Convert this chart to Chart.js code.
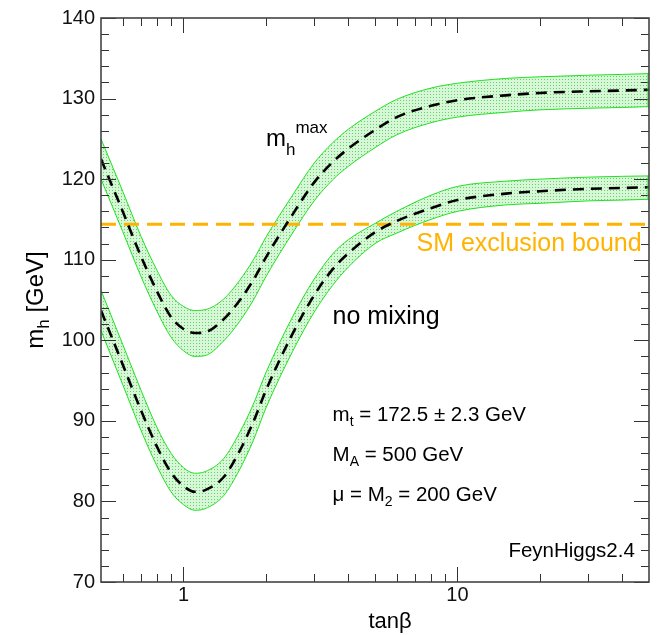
<!DOCTYPE html>
<html>
<head>
<meta charset="utf-8">
<script src="https://cdn.jsdelivr.net/npm/chart.js@4.4.0/dist/chart.umd.min.js"></script>
<style>
  html, body { margin: 0; padding: 0; background: #fff; }
  #wrap { width: 661px; height: 635px; }
</style>
</head>
<body>
<div id="wrap"><canvas id="chart" width="661" height="635"></canvas></div>
<script>
// tan(beta) sample points
const tanB = [0.5, 0.6, 0.7, 0.8, 0.9, 1.0, 1.1, 1.2, 1.4, 1.6, 1.8, 2, 2.5, 3, 3.5, 4, 5, 6, 8, 10, 15, 20, 30, 40, 50];

// mh-max scenario: central value and mt band
const mhmaxMid = [122.5, 116.0, 110.4, 106.1, 102.9, 101.4, 100.9, 101.0, 102.6, 104.9, 107.5, 110.3, 115.6, 119.6, 122.1, 123.8, 126.1, 127.7, 129.1, 129.8, 130.4, 130.7, 130.9, 131.0, 131.1];
const mhmaxHi  = [125.0, 118.5, 112.9, 108.7, 105.6, 104.2, 103.7, 103.8, 105.1, 107.4, 110.0, 112.8, 118.0, 122.0, 124.5, 126.2, 128.4, 129.9, 131.3, 131.9, 132.5, 132.7, 132.9, 133.0, 133.1];
const mhmaxLo  = [120.0, 113.5, 107.9, 103.6, 100.4,  98.7,  98.0,  98.1,  99.9, 102.3, 105.0, 107.9, 113.3, 117.3, 119.9, 121.6, 123.9, 125.5, 127.0, 127.7, 128.3, 128.6, 128.8, 128.9, 129.0];

// no-mixing scenario
const nomixMid = [103.7, 97.0, 91.3, 86.8, 83.6, 81.9, 81.2, 81.4, 83.0, 86.2, 89.9, 93.8, 100.8, 105.6, 108.8, 110.8, 113.4, 114.8, 116.4, 117.4, 118.2, 118.5, 118.8, 118.9, 119.0];
const nomixHi  = [106.2, 99.5, 93.8, 89.2, 86.0, 84.2, 83.5, 83.7, 85.3, 88.5, 92.1, 96.0, 102.9, 107.6, 110.7, 112.5, 114.5, 116.0, 118.0, 119.1, 119.75, 120.0, 120.25, 120.35, 120.4];
const nomixLo  = [101.2, 94.5, 88.8, 84.4, 81.2, 79.6, 78.9, 79.1, 80.7, 83.9, 87.6, 91.6, 98.6, 103.5, 106.8, 109.1, 112.0, 113.3, 115.0, 116.0, 116.8, 117.0, 117.3, 117.4, 117.5];

// LEP SM bound
const smBound = 114.4;

// axes
const xLabelTicks = [1, 10];
const xMinorTicks = [0.6, 0.7, 0.8, 0.9, 2, 3, 4, 5, 6, 7, 8, 9, 20, 30, 40];
const yTickLabels = [70, 80, 90, 100, 110, 120, 130, 140];

const FONT = "'Liberation Sans', Arial, Helvetica, sans-serif";

function pts(ys) {
    return tanB.map((x, i) => ({ x: x, y: ys[i] }));
}

// dotted green fill like the original stipple
function stipple() {
    const c = document.createElement('canvas');
    c.width = 3; c.height = 3;
    const g = c.getContext('2d');
    g.fillStyle = '#d8f6d8';
    g.fillRect(0, 0, 3, 3);
    g.fillStyle = '#62d462';
    g.fillRect(1, 1, 1, 1);
    return g.createPattern(c, 'repeat');
}
const bandFill = stipple();
const edge = '#22e022';

function bandSets(hi, lo, mid) {
    return [
        { data: pts(hi), borderColor: edge, borderWidth: 1, fill: false, order: 3 },
        { data: pts(lo), borderColor: edge, borderWidth: 1, fill: '-1', backgroundColor: bandFill, order: 3 },
        { data: pts(mid), borderColor: '#000', borderWidth: 2.6, borderDash: [11, 7], fill: false, order: 1 }
    ];
}

// frame and inward ticks
const frame = {
    id: 'frame',
    afterDatasetsDraw(chart) {
        const { ctx, chartArea: a, scales: { x, y } } = chart;
        ctx.save();
        ctx.strokeStyle = '#333';
        ctx.lineWidth = 1;
        const seg = (x1, y1, x2, y2) => { ctx.beginPath(); ctx.moveTo(x1, y1); ctx.lineTo(x2, y2); ctx.stroke(); };
        const xt = (v, len) => {
            const p = Math.round(x.getPixelForValue(v)) + 0.5;
            seg(p, a.bottom, p, a.bottom - len);
            seg(p, a.top, p, a.top + len);
        };
        const yt = (v, len) => {
            const p = Math.round(y.getPixelForValue(v)) + 0.5;
            seg(a.left, p, a.left + len, p);
            seg(a.right, p, a.right - len, p);
        };
        xLabelTicks.forEach(v => xt(v, 15));
        xMinorTicks.forEach(v => xt(v, 8));
        for (let v = y.min; v <= y.max; v += 2) {
            yt(v, v % 10 === 0 ? 15 : 8);
        }
        // close the bands at the right end
        ctx.strokeStyle = edge;
        const xe = x.getPixelForValue(tanB[tanB.length - 1]) - 1;
        seg(xe, y.getPixelForValue(mhmaxHi[mhmaxHi.length - 1]), xe, y.getPixelForValue(mhmaxLo[mhmaxLo.length - 1]));
        seg(xe, y.getPixelForValue(nomixHi[nomixHi.length - 1]), xe, y.getPixelForValue(nomixLo[nomixLo.length - 1]));

        ctx.lineWidth = 1.6;
        ctx.strokeStyle = '#444';
        ctx.strokeRect(a.left, a.top, a.right - a.left, a.bottom - a.top);
        ctx.restore();
    }
};

// text with sub/superscripts: parts = [text, size, dy]
function rich(ctx, x, y, parts, color, align) {
    ctx.fillStyle = color;
    ctx.textBaseline = 'alphabetic';
    ctx.textAlign = 'left';
    let w = 0;
    parts.forEach(p => { ctx.font = p[1] + 'px ' + FONT; w += ctx.measureText(p[0]).width; });
    let cx = align === 'right' ? x - w : (align === 'center' ? x - w / 2 : x);
    parts.forEach(p => {
        ctx.font = p[1] + 'px ' + FONT;
        ctx.fillText(p[0], cx, y + p[2]);
        cx += ctx.measureText(p[0]).width;
    });
}

const notes = {
    id: 'notes',
    afterDraw(chart) {
        const { ctx, chartArea: a, scales: { x, y } } = chart;
        const px = v => x.getPixelForValue(v);
        const py = v => y.getPixelForValue(v);
        ctx.save();
        rich(ctx, px(2.0), py(124.1), [['m', 24, 0], ['h', 17, 9], ['max', 17, -13]], '#000');
        rich(ctx, px(3.5), py(102), [['no mixing', 25, 0]], '#000');
        rich(ctx, px(3.5), py(90), [['m', 20.5, 0], ['t', 14, 5], [' = 172.5 \u00b1 2.3 GeV', 20.5, 0]], '#000');
        rich(ctx, px(3.5), py(85), [['M', 20.5, 0], ['A', 14, 5], [' = 500 GeV', 20.5, 0]], '#000');
        rich(ctx, px(3.5), py(80), [['\u03bc = M', 20.5, 0], ['2', 14, 5], [' = 200 GeV', 20.5, 0]], '#000');
        rich(ctx, px(47), py(111.1), [['SM exclusion bound', 25, 0]], '#ffb300', 'right');
        rich(ctx, px(44.4), py(73.1), [['FeynHiggs2.4', 20.5, 0]], '#000', 'right');

        // axis titles
        rich(ctx, 390, 628, [['tan\u03b2', 22, 0]], '#000', 'center');
        ctx.translate(43, (a.top + a.bottom) / 2);
        ctx.rotate(-Math.PI / 2);
        rich(ctx, 0, 0, [['m', 24, 0], ['h', 17, 6], [' [GeV]', 24, 0]], '#000', 'center');
        ctx.restore();
    }
};

const datasets = [].concat(
    bandSets(mhmaxHi, mhmaxLo, mhmaxMid),
    bandSets(nomixHi, nomixLo, nomixMid),
    [{
        data: [{ x: tanB[0], y: smBound }, { x: tanB[tanB.length - 1], y: smBound }],
        borderColor: '#ffb300', borderWidth: 3, borderDash: [15, 8], fill: false, order: 2
    }]
);

new Chart(document.getElementById('chart'), {
    type: 'line',
    data: { datasets: datasets },
    options: {
        responsive: false,
        animation: false,
        events: [],
        layout: { padding: { top: 17, right: 12, left: 0, bottom: 0 } },
        elements: {
            point: { radius: 0 },
            line: { cubicInterpolationMode: 'monotone' }
        },
        plugins: { legend: { display: false }, tooltip: { enabled: false } },
        scales: {
            x: {
                type: 'logarithmic',
                min: 0.5,
                max: 50,
                grid: { display: false, drawTicks: false },
                border: { display: false },
                afterFit: s => { s.height = 53; },
                afterBuildTicks: s => { s.ticks = xLabelTicks.map(v => ({ value: v })); },
                ticks: {
                    autoSkip: false,
                    maxRotation: 0,
                    padding: 1,
                    color: '#111',
                    font: { family: FONT, size: 20 },
                    callback: v => String(v)
                }
            },
            y: {
                min: 70,
                max: 140,
                grid: { display: false, drawTicks: false },
                border: { display: false },
                afterFit: s => { s.width = 101; },
                afterBuildTicks: s => { s.ticks = yTickLabels.map(v => ({ value: v })); },
                ticks: {
                    padding: 6,
                    color: '#111',
                    font: { family: FONT, size: 20 },
                    callback: v => String(v)
                }
            }
        }
    },
    plugins: [frame, notes]
});
</script>
</body>
</html>
